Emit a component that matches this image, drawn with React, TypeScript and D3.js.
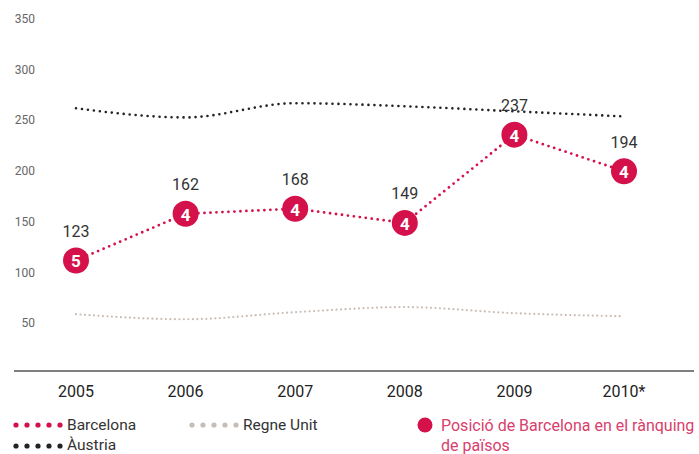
import React from "react";
import * as d3 from "d3";

const years = ["2005", "2006", "2007", "2008", "2009", "2010*"];
const barcelona = [109, 155, 160, 146, 233, 197];
const barcelonaLabels = ["123", "162", "168", "149", "237", "194"];
const barcelonaRank = [5, 4, 4, 4, 4, 4];
const austria = [259, 250, 264, 261, 256, 251];
const regneUnit = [56, 51, 58, 63, 57, 54];
const yTicks = [50, 100, 150, 200, 250, 300, 350];

const RED = "#d4114a";
const DARK = "#222222";
const BEIGE = "#c8bdb5";
const FONT = "Roboto, 'DejaVu Sans', sans-serif";

export default function App() {
  const W = 699, H = 454;
  const x = d3.scalePoint<string>().domain(years).range([76, 624]);
  const y = d3.scaleLinear().domain([0, 350]).range([371, 16]);

  const lineLinear = d3
    .line<number>()
    .x((_, i) => x(years[i])!)
    .y((d) => y(d));
  const lineSmooth = d3
    .line<number>()
    .x((_, i) => x(years[i])!)
    .y((d) => y(d))
    .curve(d3.curveMonotoneX);

  const legendDots = (x0: number, yy: number, color: string, r: number) =>
    d3.range(5).map((i) => (
      <circle key={i} cx={x0 + i * 11} cy={yy} r={r} fill={color} />
    ));

  return (
    <svg
      width={W}
      height={H}
      style={{ position: "absolute", left: 0, top: 0, background: "#fff" }}
      fontFamily={FONT}
    >
      {/* y tick labels */}
      {yTicks.map((t) => (
        <text
          key={t}
          x={35}
          y={y(t) + 3}
          textAnchor="end"
          dominantBaseline="central"
          fontSize={12}
          fill="#666"
        >
          {t}
        </text>
      ))}

      {/* x axis line */}
      <line x1={14} x2={694} y1={y(0)} y2={y(0)} stroke="#555" strokeWidth={1.5} />
      {years.map((yr) => (
        <text
          key={yr}
          x={x(yr)!}
          y={391}
          textAnchor="middle"
          dominantBaseline="central"
          fontSize={16}
          fill="#222"
        >
          {yr}
        </text>
      ))}

      {/* Regne Unit */}
      <path
        d={lineSmooth(regneUnit)!}
        fill="none"
        stroke={BEIGE}
        strokeWidth={2.2}
        strokeLinecap="round"
        strokeDasharray="0 4.5"
      />
      {/* Austria */}
      <path
        d={lineSmooth(austria)!}
        fill="none"
        stroke={DARK}
        strokeWidth={2.6}
        strokeLinecap="round"
        strokeDasharray="0 6"
      />
      {/* Barcelona */}
      <path
        d={lineLinear(barcelona)!}
        fill="none"
        stroke={RED}
        strokeWidth={2.8}
        strokeLinecap="round"
        strokeDasharray="0 6"
      />
      {barcelona.map((v, i) => (
        <g key={i}>
          <circle cx={x(years[i])!} cy={y(v)} r={13} fill={RED} />
          <text
            x={x(years[i])!}
            y={y(v) + 1}
            textAnchor="middle"
            dominantBaseline="central"
            fontSize={17}
            fontWeight="bold"
            fill="#fff"
          >
            {barcelonaRank[i]}
          </text>
          <text
            x={x(years[i])!}
            y={y(v) - 29}
            textAnchor="middle"
            dominantBaseline="central"
            fontSize={16}
            fill="#333"
          >
            {barcelonaLabels[i]}
          </text>
        </g>
      ))}

      {/* legend */}
      {legendDots(16, 425, RED, 2.6)}
      <text x={67} y={425} dominantBaseline="central" fontSize={15.5} fill="#333">
        Barcelona
      </text>
      {legendDots(192, 425, BEIGE, 2.6)}
      <text x={243} y={425} dominantBaseline="central" fontSize={15.5} fill="#333">
        Regne Unit
      </text>
      {legendDots(16, 446, DARK, 2.6)}
      <text x={67} y={445} dominantBaseline="central" fontSize={15.5} fill="#333">
        Àustria
      </text>
      <circle cx={425} cy={425} r={7.5} fill={RED} />
      <text x={441} y={425} dominantBaseline="central" fontSize={16} fill="#d9406c">
        Posició de Barcelona en el rànquing
      </text>
      <text x={441} y={445} dominantBaseline="central" fontSize={16} fill="#d9406c">
        de països
      </text>
    </svg>
  );
}
